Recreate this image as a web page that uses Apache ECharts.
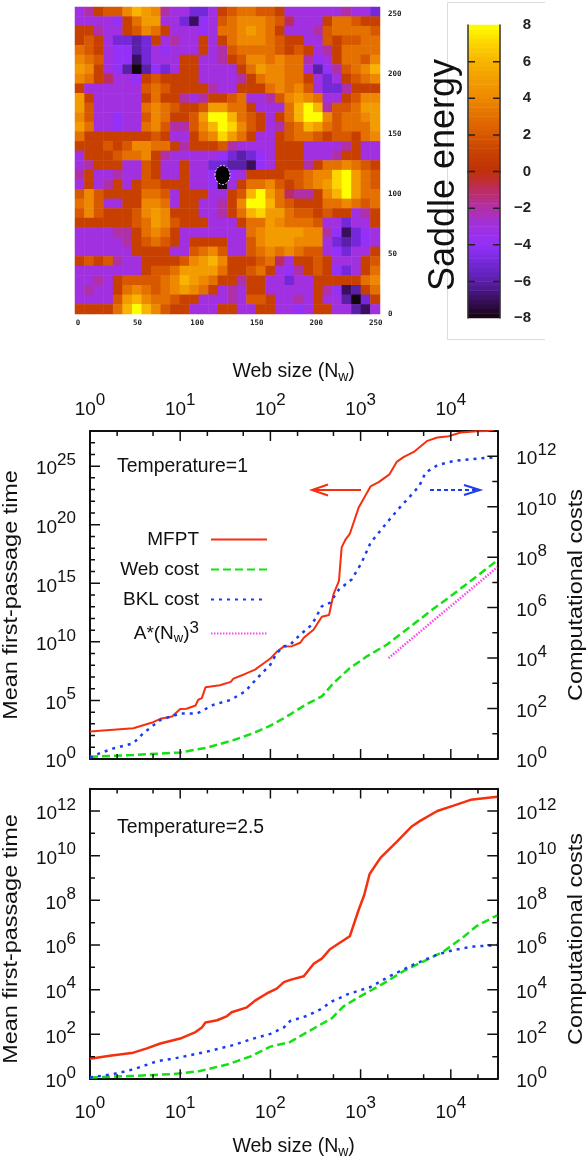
<!DOCTYPE html>
<html><head><meta charset="utf-8">
<style>html,body{margin:0;padding:0;background:#fff}#c{width:588px;height:1160px}</style>
<script src="https://cdn.jsdelivr.net/npm/echarts@6/dist/echarts.min.js"></script>
</head><body><div id="c"></div>
<script>
// Saddle-energy landscape, rows from top to bottom, 8 lattice units per cell
const saddleRows = [
[-3,-2,1,2,2,4,6,5,4,-2,-3,-3,-5,-5,-3,1,2,3,3,2,2,1,-3,-3,-3,-3,-3,-3,-2,-3,-3,-5],
[-3,-3,-3,-3,-4,1,3,5,5,-3,-3,-5,-7,-4,-3,2,3,4,4,4,3,2,-1,-3,-3,-3,1,3,3,2,1,1],
[1,1,-2,-3,-3,1,2,4,3,1,-3,-3,-3,-4,-3,3,3,4,5,4,3,1,-3,-3,-3,-2,2,3,3,3,3,2],
[1,2,1,-3,-5,-5,-6,-5,1,-3,-2,-3,-3,1,-3,1,3,4,4,4,3,2,1,1,-3,-3,2,1,2,2,3,3],
[3,2,1,-3,-4,-4,-6,-5,-3,-4,-3,-3,-3,1,-3,-2,2,3,3,3,3,2,1,2,1,-3,-2,1,3,3,3,3],
[4,3,2,-3,-4,-4,-7,-5,-3,-3,-3,1,1,-3,-3,-2,1,2,4,4,3,4,3,3,-2,-4,-3,1,3,3,2,4],
[5,4,1,-3,-4,-6,-8,-6,-4,-5,-3,1,1,-3,-3,-3,-3,1,3,5,4,4,3,3,-3,-6,-4,-2,2,3,4,6],
[4,3,1,-1,-3,-3,-4,1,2,1,1,1,1,-3,-3,-3,-3,-2,1,3,4,4,3,3,1,-3,-5,-3,1,2,3,4],
[1,-3,-3,-3,-3,-3,-3,2,3,2,1,1,1,1,-2,-3,-3,1,1,1,3,4,3,4,2,-3,-5,-5,-2,1,1,1],
[5,1,-3,-3,-3,-3,-3,1,3,1,1,-2,-3,-2,1,1,2,3,-3,-3,-2,2,4,5,4,3,-3,-3,1,2,4,4],
[5,2,-3,-3,-3,-3,-3,3,4,3,2,1,1,2,5,5,3,3,1,-3,-3,-3,3,6,8,6,-2,2,2,3,5,5],
[4,2,-3,-3,-4,-3,-3,2,4,3,1,1,2,5,8,8,6,3,2,1,-3,1,3,6,8,8,4,2,3,3,4,5],
[5,3,-3,-3,-4,-3,-3,3,4,2,-2,-2,2,4,6,8,7,4,2,1,-3,-2,2,3,6,5,3,2,3,3,3,5],
[3,1,1,1,1,1,1,1,2,1,-3,-3,1,3,4,7,5,3,1,-3,-3,1,2,3,3,2,1,2,2,1,3,4],
[1,1,1,2,1,2,4,4,3,3,1,-2,1,1,1,2,-2,-3,-3,-3,-3,1,1,1,-3,-3,-3,-3,-2,1,-3,-3],
[-3,1,1,1,2,3,3,4,1,-2,-3,-3,-3,-3,-3,-4,-5,-6,-5,-4,-3,1,1,1,-3,-3,-3,-2,1,1,-3,-3],
[-3,-2,1,1,1,-3,-3,2,1,-3,-3,1,-3,-3,-5,-5,-6,-6,-7,-4,-3,1,1,1,-2,1,3,3,4,3,2,1],
[-2,1,-3,-3,-2,-3,-3,2,1,-3,-3,1,-3,-3,-4,-8,-4,-3,1,1,1,1,2,2,3,4,4,7,8,5,3,2],
[-3,1,-3,-2,1,-3,1,2,2,1,1,1,-3,-3,-4,-8,-3,1,3,3,4,2,1,2,3,4,5,7,8,5,3,2],
[2,4,2,1,1,1,1,3,3,2,-3,1,1,1,-3,-3,1,2,6,8,5,3,-1,-2,-2,1,4,6,8,5,3,3],
[3,4,2,-3,-3,1,1,4,4,3,-3,1,1,-3,-3,-2,1,4,8,8,6,3,2,1,1,1,3,3,4,3,2,3],
[2,4,2,1,1,1,2,4,5,4,1,1,1,-3,-3,-2,1,3,6,7,5,5,3,2,2,1,2,1,1,-3,-2,1],
[1,1,1,1,1,1,2,3,5,4,2,1,1,1,-3,-3,-3,1,3,3,5,4,3,3,3,2,-3,-3,-5,-3,-3,1],
[-3,-3,-3,-3,-2,-2,1,3,4,3,1,-3,-3,-3,-3,-3,-3,-3,3,4,5,5,5,5,4,4,-2,-4,-7,-5,-4,-3],
[-3,-3,-3,-3,-3,-2,1,2,3,2,1,-3,1,1,1,1,-3,-3,2,4,5,5,5,4,4,4,-3,-5,-6,-5,-4,-3],
[-3,-3,-3,-3,-3,-3,1,1,1,1,-3,-3,2,3,4,2,-3,-3,2,3,4,3,4,3,2,2,-3,-4,-5,-3,-3,1],
[1,2,1,2,-2,-3,-3,1,1,1,1,2,4,5,6,4,1,1,1,2,3,-1,-3,1,1,2,1,-3,-3,-3,1,2],
[-3,-3,-3,-3,-3,-3,-3,1,2,2,3,5,5,5,5,3,1,1,2,3,1,-3,-4,-2,1,2,1,-4,-5,-3,1,3],
[-3,-3,-2,-3,1,2,2,2,2,3,4,6,5,4,3,1,1,-2,1,1,-3,-3,-5,-3,-3,1,1,1,1,1,3,4],
[-3,-2,-3,-3,1,3,4,3,2,3,4,5,4,3,1,-3,-2,-3,1,1,-3,-3,-3,-3,-3,1,-2,-4,-7,-6,1,3],
[-3,-3,-3,-3,2,5,6,4,3,3,2,1,1,-3,-3,-3,-2,-3,2,2,1,-3,-3,-2,-3,1,-3,-3,-6,-8,-5,1],
[1,1,1,1,3,6,8,6,4,2,1,1,-3,-3,-3,1,1,-3,-3,1,1,-3,-3,-4,-3,1,1,-3,-3,-6,-7,-3]
];
const barLevels = [-7.875,-7.625,-7.375,-7.125,-6.875,-6.625,-6.375,-6.125,-5.875,-5.625,-5.375,-5.125,-4.875,-4.625,-4.375,-4.125,-3.875,-3.625,-3.375,-3.125,-2.875,-2.625,-2.375,-2.125,-1.875,-1.625,-1.375,-1.125,-0.875,-0.625,-0.375,-0.125,0.125,0.375,0.625,0.875,1.125,1.375,1.625,1.875,2.125,2.375,2.625,2.875,3.125,3.375,3.625,3.875,4.125,4.375,4.625,4.875,5.125,5.375,5.625,5.875,6.125,6.375,6.625,6.875,7.125,7.375,7.625,7.875];
const energyColors = ['#14040c','#3a0f60','#5a20a8','#7428d8','#9430f8','#a030e0','#b030a8','#bc2c60','#c03008','#c84000','#d85800','#e47000','#ee8800','#f29c00','#f8b400','#fcd400','#ffff00'];
const barTickValues = [-6,-4,-2,0,2,4,6];

// Tick values of the log panels (log10)
const sizeMajorExp = [1,2,3,4];
const sizeMinorExp = [.301,.699,1.301,1.699,2.301,2.699,3.301,3.699,4.301];
const timeMajorExp = [5,10,15,20,25];
const timeMinorExp = [1,2,3,4,6,7,8,9,11,12,13,14,16,17,18,19,21,22,23,24,26,27];
const costMajorExp = [2,4,6,8,10,12];
const costMinorExp = [1,3,5,7,9,11];

// Temperature = 1: log10(Nw) and log10(value)
const t1MfptX = [0,.48,.70,.78,.91,1.00,1.07,1.17,1.20,1.24,1.28,1.44,1.56,1.59,1.72,1.83,1.93,2.00,2.07,2.15,2.24,2.33,2.37,2.48,2.57,2.65,2.70,2.76,2.79,2.83,2.88,2.98,3.11,3.20,3.32,3.40,3.48,3.59,3.74,3.85,3.98,4.11,4.29,4.40,4.515];
const t1MfptY = [2.34,2.63,3.14,3.43,3.63,4.26,4.29,4.57,5.06,5.20,6.12,6.29,6.58,6.86,7.26,7.63,8.20,8.58,9.15,9.61,9.63,9.92,10.35,11.06,12.15,12.29,14.07,15.21,18.07,18.70,19.21,21.50,23.27,23.64,24.30,25.36,25.79,26.21,27.16,27.44,27.56,27.87,27.97,28.0,28.2];
const t1BklX = [0,.11,.26,.48,.59,.78,1.00,1.19,1.37,1.56,1.72,1.89,2.00,2.07,2.15,2.22,2.33,2.46,2.57,2.66,2.76,2.90,3.01,3.11,3.29,3.40,3.55,3.65,3.72,3.85,4.03,4.22,4.515];
const t1BklY = [.05,.23,.42,.62,1.02,1.55,1.80,1.81,2.15,2.34,2.68,3.34,3.74,4.2,4.46,4.53,4.93,5.32,6.05,6.19,6.72,7.11,7.77,8.57,9.36,9.83,10.42,10.82,11.35,11.64,11.81,11.88,11.97];
const t1WebX = [0,.48,1.00,1.30,1.59,1.81,2.00,2.15,2.22,2.40,2.57,2.70,2.88,3.07,3.29,3.51,3.77,4.03,4.29,4.515];
const t1WebY = [.09,.16,.26,.45,.75,1.02,1.32,1.62,1.77,2.17,2.48,3.01,3.60,4.07,4.53,5.13,5.85,6.54,7.25,7.87];
const t1FitX = [3.31,4.515];
const t1FitY = [4.0,7.6];

// Temperature = 2.5
const t2MfptX = [0,.22,.48,.63,.78,1.00,1.17,1.24,1.28,1.41,1.52,1.57,1.74,1.83,1.96,2.07,2.15,2.22,2.37,2.48,2.57,2.66,2.88,2.98,3.04,3.10,3.22,3.40,3.57,3.66,3.85,4.03,4.22,4.515];
const t2MfptY = [.91,1.04,1.18,1.37,1.59,1.81,2.10,2.31,2.53,2.63,2.82,2.99,3.21,3.51,3.83,4.05,4.34,4.44,4.60,5.16,5.39,5.81,6.39,7.59,8.24,9.18,9.90,10.62,11.32,11.56,12.0,12.24,12.5,12.64];
const t2BklX = [0,.26,.48,.74,1.00,1.30,1.59,1.81,2.00,2.15,2.22,2.40,2.55,2.68,2.86,3.11,3.33,3.59,3.85,4.03,4.25,4.515];
const t2BklY = [.07,.22,.43,.79,.97,1.23,1.52,1.81,2.02,2.31,2.60,2.82,3.11,3.47,3.80,4.12,4.62,5.13,5.57,5.78,5.93,6.0];
const t2WebX = [0,.48,.93,1.22,1.52,1.78,2.00,2.15,2.22,2.44,2.68,2.81,2.96,3.25,3.48,3.70,3.92,4.14,4.29,4.515];
const t2WebY = [.07,.14,.22,.36,.65,1.01,1.45,1.59,1.66,2.17,2.72,3.25,3.62,4.27,4.84,5.27,5.71,6.36,6.86,7.33];

const FONT = '"Liberation Sans",Arial,sans-serif';
const RED='#f5300f', GREEN='#14e014', BLUE='#1c3cf0', PINK='#ff44ee', INK='#111';
const pairs=(xs,ys)=>xs.map((x,i)=>[Math.pow(10,x),Math.pow(10,ys[i])]);
const noSplit={show:false};

const richTick = {
  b:{fontFamily:FONT,fontSize:19,color:INK,padding:[6,0,0,0]},
  s:{fontFamily:FONT,fontSize:17,color:INK,padding:[0,0,12,0]}
};
const powLabel = step => v => {
  const e=Math.log10(v), r=Math.round(e);
  if(Math.abs(e-r)>1e-6 || r%step!==0) return '';
  return '{b|10}{s|'+r+'}';
};
const nameRich = {
  a:{fontFamily:FONT,fontSize:19.5,color:INK},
  w:{fontFamily:FONT,fontSize:14,color:INK,padding:[10,0,0,0]}
};

const grids=[], xAxes=[], yAxes=[], series=[];
function addGrid(left,top,width,height){grids.push({left,top,width,height});return grids.length-1;}

// --- heat map
const gHeat=addGrid(75,7,305,307);
const colNames=saddleRows[0].map((_,i)=>String(i)), rowNames=saddleRows.map((_,i)=>String(i));
xAxes.push({gridIndex:gHeat,type:'category',data:colNames,show:false});
yAxes.push({gridIndex:gHeat,type:'category',data:rowNames,show:false});
const heatData=[];
saddleRows.forEach((row,r)=>row.forEach((v,c)=>heatData.push([c,saddleRows.length-1-r,v])));
series.push({type:'heatmap',xAxisIndex:0,yAxisIndex:0,data:heatData,silent:true,progressive:0,itemStyle:{borderWidth:0}});
const monoLabel={fontFamily:'"DejaVu Sans Mono",monospace',fontSize:7.5,fontWeight:'bold',color:'#222'};
xAxes.push({gridIndex:gHeat,type:'value',min:0,max:256,interval:50,position:'bottom',
  axisLine:{show:false},axisTick:{show:false},splitLine:{show:false},
  axisLabel:Object.assign({},monoLabel,{margin:5,showMaxLabel:false,padding:[0,0,0,6],formatter:v=>v>250?'':String(v)})});
yAxes.push({gridIndex:gHeat,type:'value',min:0,max:256,interval:50,position:'right',
  axisLine:{show:false},axisTick:{show:false},splitLine:{show:false},
  axisLabel:Object.assign({},monoLabel,{margin:8,showMaxLabel:false,formatter:v=>v>250?'':String(v)})});

// --- colour bar
const gBar=addGrid(468,25,32,293);
const barFrame={show:true,lineStyle:{color:'#333',width:1.5}};
const iBarX=xAxes.length;
xAxes.push({gridIndex:gBar,type:'category',data:['e'],position:'bottom',axisTick:{show:false},axisLabel:{show:false},axisLine:barFrame});
xAxes.push({gridIndex:gBar,type:'category',data:['e'],position:'top',axisTick:{show:false},axisLabel:{show:false},axisLine:barFrame});
const iBarUnit=xAxes.length;
xAxes.push({gridIndex:gBar,type:'value',min:0,max:1,show:false,splitLine:noSplit});
const iBarY=yAxes.length;
yAxes.push({gridIndex:gBar,type:'category',data:barLevels.map(String),show:false});
series.push({type:'heatmap',xAxisIndex:iBarX,yAxisIndex:iBarY,data:barLevels.map((v,i)=>[0,i,v]),silent:true,progressive:0,itemStyle:{borderWidth:0},z:1});
const iBarValue=yAxes.length;
yAxes.push({gridIndex:gBar,type:'value',min:-8,max:8,interval:2,position:'left',splitLine:noSplit,axisLabel:{show:false},axisTick:{show:false},axisLine:barFrame,z:5});
yAxes.push({gridIndex:gBar,type:'value',min:-8,max:8,interval:2,position:'right',splitLine:noSplit,axisTick:{show:false},axisLine:barFrame,z:5,
  axisLabel:{fontFamily:FONT,fontSize:15,fontWeight:'bold',color:'#222',align:'right',margin:31,padding:[5,0,0,0],formatter:v=>v<0?'\u2212'+(-v):String(v)}});

// --- log panels
const XMAX=32768, XMAX_EXP=Math.log10(XMAX);
function panel(top,height,labelSide,leftMaxExp,leftMax,leftStep,leftMajor,leftMinor){
  const g=addGrid(90,top,407.3,height);
  const xIdx=xAxes.length, yIdx=yAxes.length;
  const line={show:true,lineStyle:{color:INK,width:2}};
  ['bottom','top'].forEach(pos=>{
    const labelled=pos===labelSide;
    xAxes.push({gridIndex:g,type:'log',logBase:10,min:1,max:XMAX,splitLine:noSplit,axisLine:line,position:pos,
      axisTick:{show:false},minorTick:{show:false},
      axisLabel:{show:labelled,margin:pos==='top'?10:16,formatter:powLabel(1),rich:richTick,showMaxLabel:false},
      name:labelled?'{a|Web size (N}{w|w}{a|)}':'',nameLocation:'middle',nameGap:pos==='top'?47:56,nameTextStyle:{rich:nameRich}});
  });
  const yBase=(pos,max,interval,step,margin)=>({gridIndex:g,type:'log',logBase:10,min:1,max,interval,position:pos,splitLine:noSplit,
    axisLine:line,axisTick:{show:false},minorTick:{show:false},
    axisLabel:{show:true,margin,formatter:powLabel(step),rich:richTick,showMaxLabel:false}});
  yAxes.push(yBase('left',leftMax,leftStep,leftStep,14));
  yAxes.push(yBase('right',1e13,2,2,19));
  return {g,x:xIdx,left:yIdx,right:yIdx+1,leftMaxExp,leftMajor,leftMinor};
}
function addLine(name,ax,yAxisIndex,data,color,width,type){
  series.push({type:'line',name,xAxisIndex:ax.x,yAxisIndex,data,showSymbol:false,symbol:'none',clip:true,silent:true,
    lineStyle:{color,width,type},itemStyle:{color},emphasis:{disabled:true},z:3});
}
const p1=panel(431,328,'top',28,1e28,5,timeMajorExp,timeMinorExp);
addLine('MFPT',p1,p1.left,pairs(t1MfptX,t1MfptY),RED,2,'solid');
addLine('Web cost',p1,p1.right,pairs(t1WebX,t1WebY),GREEN,2.5,[8,4]);
addLine('BKL cost',p1,p1.right,pairs(t1BklX,t1BklY),BLUE,2.5,[3,5]);
addLine('A*(Nw)3',p1,p1.right,pairs(t1FitX,t1FitY),PINK,2.5,[1.5,1.5]);
const p2=panel(788.7,299.5,'bottom',13,1e13,2,costMajorExp,costMinorExp);
addLine('MFPT',p2,p2.left,pairs(t2MfptX,t2MfptY),RED,2.5,'solid');
addLine('Web cost',p2,p2.right,pairs(t2WebX,t2WebY),GREEN,2.5,[8,4]);
addLine('BKL cost',p2,p2.right,pairs(t2BklX,t2BklY),BLUE,2.5,[3,5]);

// Tick marks as thin line series running through the axes' own scales
function tickSeries(xAxisIndex,yAxisIndex,segments,color){
  const data=[];
  segments.forEach(s=>{data.push([s[0],s[1]],[s[2],s[3]],[s[2],'-']);});
  series.push({type:'line',name:'ticks',xAxisIndex,yAxisIndex,data,showSymbol:false,symbol:'none',connectNulls:false,clip:false,silent:true,
    lineStyle:{color:color||INK,width:1.5},itemStyle:{color:color||INK},emphasis:{disabled:true},z:4,animation:false});
}
const P=e=>Math.pow(10,e);
[p1,p2].forEach(p=>{
  const g=grids[p.g];
  const xPerPx=XMAX_EXP/g.width, rPerPx=13/g.height, lPerPx=p.leftMaxExp/g.height;
  const xs=[];
  [[sizeMajorExp,10],[sizeMinorExp,5]].forEach(([list,len])=>list.forEach(e=>{
    xs.push([P(e),1,P(e),P(len*rPerPx)]);
    xs.push([P(e),1e13,P(e),P(13-len*rPerPx)]);
  }));
  tickSeries(p.x,p.right,xs);
  const ls=[];
  [[p.leftMajor,10],[p.leftMinor,5]].forEach(([list,len])=>list.forEach(e=>{
    ls.push([1,P(e),P(len*xPerPx),P(e)]);
  }));
  tickSeries(p.x,p.left,ls);
  const rs=[];
  [[costMajorExp,10],[costMinorExp,5]].forEach(([list,len])=>list.forEach(e=>{
    rs.push([XMAX,P(e),P(XMAX_EXP-len*xPerPx),P(e)]);
  }));
  tickSeries(p.x,p.right,rs);
});
const barSegs=[];
barTickValues.forEach(v=>{barSegs.push([0,v,.22,v],[1,v,.78,v]);});
tickSeries(iBarUnit,iBarValue,barSegs,'#222');

// --- annotations
const txt=(text,x,y,size)=>({type:'text',x,y,silent:true,z:20,
  style:{text,fill:INK,font:size+'px '+FONT,textAlign:'left',textVerticalAlign:'middle'}});
const vtxt=(text,x,y,size,sx)=>({type:'text',x,y,rotation:Math.PI/2,scaleX:sx,scaleY:1,silent:true,z:20,
  style:{text,fill:INK,font:size+'px '+FONT,textAlign:'center',textVerticalAlign:'middle'}});
const poly=(points,stroke,lineWidth,lineDash)=>({type:'polyline',silent:true,z:20,shape:{points},style:{stroke,lineWidth,lineDash:lineDash||null,fill:null}});
const graphic=[
  poly([[545,2.5],[447.5,2.5],[447.5,339.5],[545,339.5]],'#dcdcdc',1),
  {type:'ellipse',silent:true,z:20,shape:{cx:222.5,cy:175,rx:7.5,ry:9.5},style:{fill:'#000',stroke:'#f4e6f4',lineWidth:1,lineDash:[2,1.5]}},
  vtxt('Saddle energy',444,175,36,1),
  txt('Temperature=1',117,467,19.4),
  txt('Temperature=2.5',117,828,19.4),
  vtxt('Mean first-passage time',12,595,19.5,1.2),
  vtxt('Computational costs',577,595,19.5,1.2),
  vtxt('Mean first-passage time',12,939,19.5,1.2),
  vtxt('Computational costs',577,939,19.5,1.2),
  poly([[361,490],[313,490]],RED,2),
  poly([[328,484.5],[312,490],[328,495.5]],RED,2),
  poly([[430,490],[478,490]],BLUE,2,[4,3]),
  poly([[464,485],[480,490],[464,495]],BLUE,2)
];

const chart=echarts.init(document.getElementById('c'),null,{renderer:'canvas'});
chart.setOption({
  animation:false,backgroundColor:'#fff',textStyle:{fontFamily:FONT},
  grid:grids,xAxis:xAxes,yAxis:yAxes,series,graphic,
  visualMap:{show:false,type:'continuous',min:-8,max:8,seriesIndex:[0,1],dimension:2,inRange:{color:energyColors}},
  legend:{show:true,orient:'vertical',align:'right',right:320,top:530,padding:0,itemGap:11,itemWidth:56,itemHeight:10,selectedMode:false,
    itemStyle:{opacity:0},
    data:['MFPT','Web cost','BKL cost','A*(Nw)3'],
    formatter:n=>n==='A*(Nw)3'?'{a|A*(N}{w|w}{a|)}{p|3}':'{a|'+n+'}',
    textStyle:{rich:{a:{fontFamily:FONT,fontSize:19,color:INK,lineHeight:20},w:{fontFamily:FONT,fontSize:13,color:INK,lineHeight:20,padding:[9,0,0,0]},p:{fontFamily:FONT,fontSize:17,color:INK,lineHeight:20,padding:[0,0,10,0]}},padding:[0,7,0,0]}}
});
</script></body></html>
